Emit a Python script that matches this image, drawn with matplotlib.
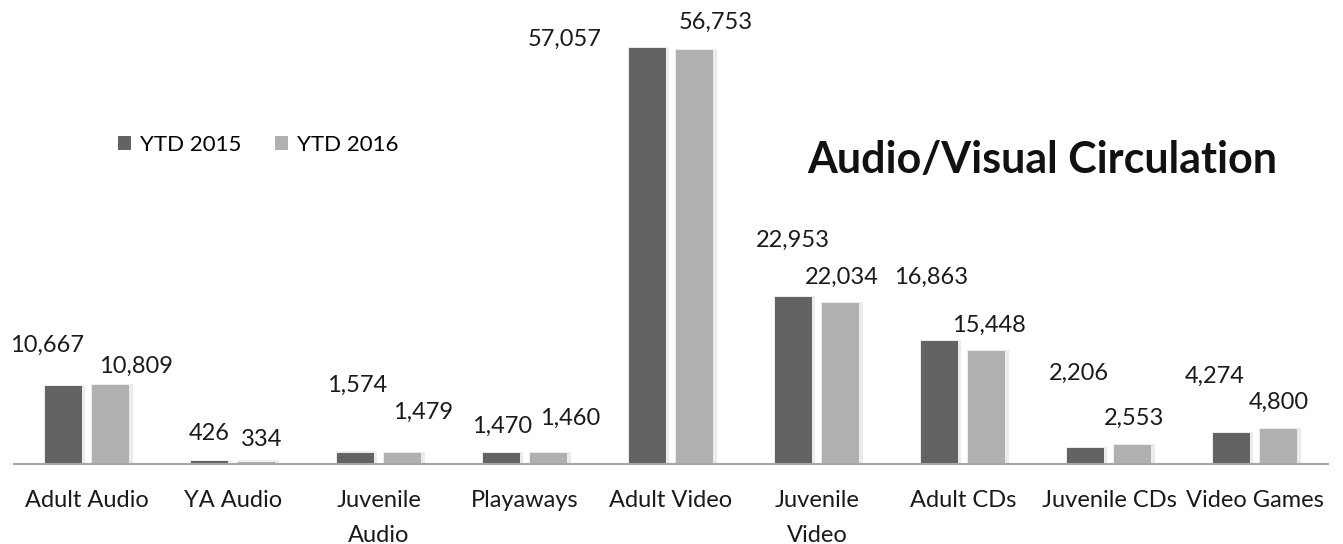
import matplotlib
matplotlib.use("Agg")
import matplotlib.pyplot as plt
import numpy as np

plt.rcParams['font.family'] = ['Lato', 'DejaVu Sans']

categories = ["Adult Audio", "YA Audio", "Juvenile\nAudio", "Playaways", "Adult Video",
              "Juvenile\nVideo", "Adult CDs", "Juvenile CDs", "Video Games"]
ytd_2015 = [10667, 426, 1574, 1470, 57057, 22953, 16863, 2206, 4274]
ytd_2016 = [10809, 334, 1479, 1460, 56753, 22034, 15448, 2553, 4800]

# hand-placed data label offsets (pixels from the top centre of each bar)
off_2015 = [(-16, 41), (0, 27), (2, 67), (1, 27), (-82, 9), (0, 56), (-8, 64), (-6, 75), (-16, 56)]
off_2016 = [(25, 19), (5, 22), (20, 41), (21, 35), (21, 28), (1, 26), (2, 26), (1, 27), (0, 27)]

c15 = "#636363"
c16 = "#b0b0b0"
glow = "#ececec"

W, H = 1343, 544
fig = plt.figure(figsize=(W / 100, H / 100), dpi=100)
ax = fig.add_axes([14 / W, (H - 464) / H, (1328 - 14) / W, 464 / H])

x = np.arange(len(categories))
bw = 0.253
shift = 0.164

# soft shadow behind each bar
ax.bar(x - shift + 0.008, np.array(ytd_2015) + 150, width=bw + 0.03, color=glow, zorder=1)
ax.bar(x + shift + 0.008, np.array(ytd_2016) + 150, width=bw + 0.03, color=glow, zorder=1)
b15 = ax.bar(x - shift, ytd_2015, width=bw, color=c15, zorder=2, label="YTD 2015")
b16 = ax.bar(x + shift, ytd_2016, width=bw, color=c16, zorder=2, label="YTD 2016")

for xi, v, (dx, dy) in zip(x - shift, ytd_2015, off_2015):
    ax.annotate(f"{v:,}", (xi, v), xytext=(dx, dy), textcoords="offset pixels",
                ha="center", va="center", fontsize=17, color="#1a1a1a")
for xi, v, (dx, dy) in zip(x + shift, ytd_2016, off_2016):
    ax.annotate(f"{v:,}", (xi, v), xytext=(dx, dy), textcoords="offset pixels",
                ha="center", va="center", fontsize=17, color="#1a1a1a")

ax.set_xlim(-0.5, len(categories) - 0.5)
ax.set_ylim(0, 57057 * 464 / 416)
ax.set_xticks(x)
ax.set_xticklabels(categories, fontsize=17, color="#1a1a1a", linespacing=1.8)
ax.tick_params(axis="x", length=0, pad=19)
ax.set_yticks([])
for s in ["top", "left", "right"]:
    ax.spines[s].set_visible(False)
ax.spines["bottom"].set_color("#a6a6a6")
ax.spines["bottom"].set_linewidth(1.5)
ax.patch.set_alpha(0)

ax.legend(handles=[b15, b16], loc="center", bbox_to_anchor=(258 / W, 1 - 145 / H),
          bbox_transform=fig.transFigure, ncol=2, frameon=False, fontsize=16,
          handlelength=0.6, handleheight=0.6, handletextpad=0.4, columnspacing=1.5)

fig.text(1042 / W, 1 - 173 / H, "Audio/Visual Circulation", ha="center", va="baseline",
         fontsize=31, fontweight="bold", color="#111111")

fig.savefig("out.png", dpi=100)
